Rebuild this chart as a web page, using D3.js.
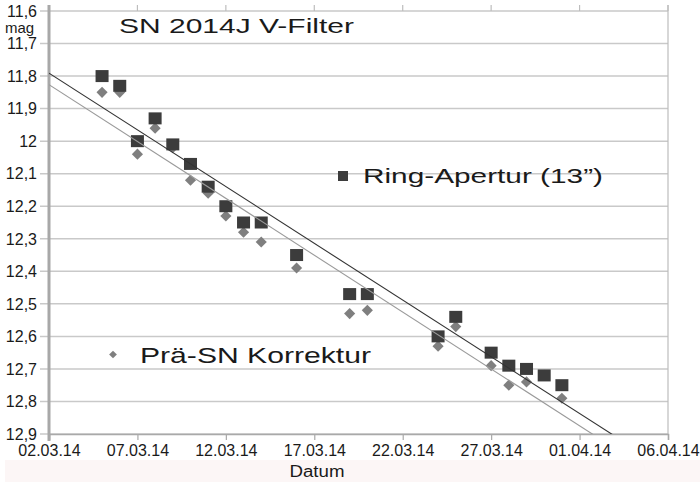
<!DOCTYPE html>
<html>
<head>
<meta charset="utf-8">
<script src="https://cdn.jsdelivr.net/npm/d3@7"></script>
<style>
body { margin: 0; background: #fff; }
text { font-family: "Liberation Sans", Arial, sans-serif; fill: #1a1a1a; }
</style>
</head>
<body>
<svg id="chart" width="700" height="483"></svg>
<script>
// observation dates (dd.mm.yy)
var obsDates = ["05.03.14", "06.03.14", "07.03.14", "08.03.14", "09.03.14", "10.03.14", "11.03.14",
    "12.03.14", "13.03.14", "14.03.14", "16.03.14", "19.03.14", "20.03.14", "24.03.14", "25.03.14",
    "27.03.14", "28.03.14", "29.03.14", "30.03.14", "31.03.14"];
// Ring-Apertur (13") magnitudes
var ringMag = [11.80, 11.83, 12.00, 11.93, 12.01, 12.07, 12.14, 12.20, 12.25, 12.25, 12.35,
    12.47, 12.47, 12.60, 12.54, 12.65, 12.69, 12.70, 12.72, 12.75];
// Prä-SN Korrektur magnitudes
var korrMag = [11.85, 11.85, 12.04, 11.96, 12.02, 12.12, 12.16, 12.23, 12.28, 12.31, 12.39,
    12.53, 12.52, 12.63, 12.57, 12.69, 12.75, 12.74, 12.72, 12.79];
var xTickLabels = ["02.03.14", "07.03.14", "12.03.14", "17.03.14", "22.03.14", "27.03.14", "01.04.14", "06.04.14"];
var yTicks = [11.6, 11.7, 11.8, 11.9, 12.0, 12.1, 12.2, 12.3, 12.4, 12.5, 12.6, 12.7, 12.8, 12.9];

var parse = d3.utcParse("%d.%m.%y");
var fmtY = function (v) { return d3.format(".1f")(v).replace(".0", "").replace(".", ","); };

var svg = d3.select("#chart");
var pLeft = 49, pRight = 668, pTop = 11, pBottom = 434;

var x = d3.scaleUtc()
    .domain([parse(xTickLabels[0]), parse(xTickLabels[xTickLabels.length - 1])])
    .range([pLeft, pRight]);
var y = d3.scaleLinear().domain([11.6, 12.9]).range([pTop, pBottom]);

// faint band under the chart
svg.append("rect").attr("x", 5).attr("y", 460).attr("width", 695).attr("height", 22).attr("fill", "#fcf6f6");

// horizontal grid
svg.append("g").selectAll("line").data(yTicks).enter().append("line")
    .attr("x1", pLeft - 9).attr("x2", pRight)
    .attr("y1", function (d) { return y(d); }).attr("y2", function (d) { return y(d); })
    .attr("stroke", "#c9c9c9").attr("stroke-width", 1.5);

// top ticks, right border, bottom axis
var tickDates = xTickLabels.map(parse);
svg.append("g").selectAll("line").data(tickDates).enter().append("line")
    .attr("x1", function (d) { return x(d); }).attr("x2", function (d) { return x(d); })
    .attr("y1", 5).attr("y2", pTop)
    .attr("stroke", "#bdbdbd").attr("stroke-width", 1.2);
svg.append("line").attr("x1", pRight).attr("x2", pRight).attr("y1", 5).attr("y2", pBottom)
    .attr("stroke", "#bdbdbd").attr("stroke-width", 1.2);

var xAxis = svg.append("g").attr("transform", "translate(0," + pBottom + ")")
    .call(d3.axisBottom(x).tickValues(tickDates).tickSize(6).tickPadding(5).tickFormat(d3.utcFormat("%d.%m.%y")));
xAxis.select(".domain").attr("stroke", "#a9a9a9").attr("stroke-width", 1.5);
xAxis.selectAll(".tick line").attr("stroke", "#a9a9a9").attr("stroke-width", 1.2);
xAxis.selectAll(".tick text").attr("font-size", 16).attr("font-family", null).attr("fill", "#1a1a1a");

// y axis
svg.append("line").attr("x1", pLeft).attr("x2", pLeft).attr("y1", 5).attr("y2", pBottom + 7)
    .attr("stroke", "#a8a8a8").attr("stroke-width", 3);
svg.append("g").selectAll("text").data(yTicks).enter().append("text")
    .attr("x", 37).attr("y", function (d) { return y(d); }).attr("dy", "0.36em")
    .attr("text-anchor", "end").attr("font-size", 16)
    .text(fmtY);
svg.append("text").attr("x", 5).attr("y", 33).attr("font-size", 15).text("mag");

// data
var ring = obsDates.map(function (d, i) { return { date: parse(d), mag: ringMag[i] }; });
var korr = obsDates.map(function (d, i) { return { date: parse(d), mag: korrMag[i] }; });

var diamond = d3.symbol().type(d3.symbolSquare).size(62);
svg.append("g").selectAll("path").data(korr).enter().append("path")
    .attr("d", diamond)
    .attr("transform", function (d) { return "translate(" + x(d.date) + "," + y(d.mag) + ") rotate(45)"; })
    .attr("fill", "#7f7f7f");

svg.append("g").selectAll("rect").data(ring).enter().append("rect")
    .attr("x", function (d) { return x(d.date) - 6.5; })
    .attr("y", function (d) { return y(d.mag) - 6; })
    .attr("width", 13).attr("height", 12)
    .attr("fill", "#3c3c3c");

// linear trend lines (least squares in days)
var t0 = x.domain()[0], t1 = x.domain()[1];
function trend(pts) {
    var xs = pts.map(function (p) { return (p.date - t0) / 864e5; });
    var mx = d3.mean(xs), my = d3.mean(pts, function (p) { return p.mag; });
    var sxy = d3.sum(pts, function (p, i) { return (xs[i] - mx) * (p.mag - my); });
    var sxx = d3.sum(xs, function (v) { return (v - mx) * (v - mx); });
    var b = sxy / sxx, a = my - b * mx;
    var end = (t1 - t0) / 864e5;
    return [{ date: t0, mag: a }, { date: t1, mag: a + b * end }];
}
svg.append("clipPath").attr("id", "plot").append("rect")
    .attr("x", pLeft).attr("y", pTop).attr("width", pRight - pLeft).attr("height", pBottom - pTop);
var line = d3.line().x(function (d) { return x(d.date); }).y(function (d) { return y(d.mag); });
svg.append("path").datum(trend(korr)).attr("d", line).attr("clip-path", "url(#plot)")
    .attr("fill", "none").attr("stroke", "#9a9a9a").attr("stroke-width", 1.1);
svg.append("path").datum(trend(ring)).attr("d", line).attr("clip-path", "url(#plot)")
    .attr("fill", "none").attr("stroke", "#333").attr("stroke-width", 1.1);

// title, legend, axis title
svg.append("text").attr("x", 119).attr("y", 33).attr("font-size", 21)
    .attr("textLength", 235).attr("lengthAdjust", "spacingAndGlyphs")
    .text("SN 2014J V-Filter");

svg.append("rect").attr("x", 338).attr("y", 171).attr("width", 10).attr("height", 10).attr("fill", "#3c3c3c");
svg.append("text").attr("x", 363).attr("y", 183).attr("font-size", 21)
    .attr("textLength", 240).attr("lengthAdjust", "spacingAndGlyphs")
    .text("Ring-Apertur (13\u201d)");

svg.append("path").attr("d", d3.symbol().type(d3.symbolSquare).size(30))
    .attr("transform", "translate(113,354.5) rotate(45)").attr("fill", "#7f7f7f");
svg.append("text").attr("x", 140).attr("y", 363).attr("font-size", 22)
    .attr("textLength", 231).attr("lengthAdjust", "spacingAndGlyphs")
    .text("Prä-SN Korrektur");

svg.append("text").attr("x", 317).attr("y", 477).attr("text-anchor", "middle").attr("font-size", 16)
    .attr("textLength", 55).attr("lengthAdjust", "spacingAndGlyphs")
    .text("Datum");
</script>
</body>
</html>
